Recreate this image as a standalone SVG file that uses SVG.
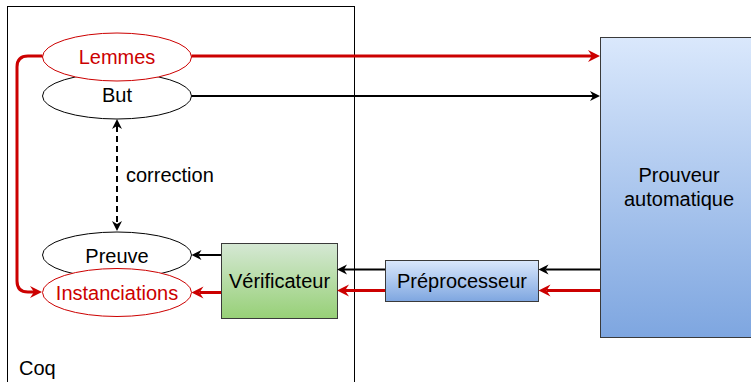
<svg xmlns="http://www.w3.org/2000/svg" width="751" height="382" viewBox="0 0 751 382">
  <style>
    text { font-family: "Liberation Sans", Arial, Helvetica, sans-serif; font-size: 20px; fill: #000; }
    text.red { fill: #cc0000; }
    .ell { fill: #fff; stroke: #000; stroke-width: 1; }
    .ell.red { stroke: #cc0000; }
    .box { stroke: #3a3a3a; stroke-width: 1; }
    .blk { fill: none; stroke: #000; stroke-width: 2; }
    .rd { fill: none; stroke: #cc0000; stroke-width: 3; }
  </style>
  <defs>
    <linearGradient id="gBlue" x1="0" y1="0" x2="0" y2="1">
      <stop offset="0" stop-color="#dae8fc"/>
      <stop offset="1" stop-color="#7ea6e0"/>
    </linearGradient>
    <linearGradient id="gGreen" x1="0" y1="0" x2="0" y2="1">
      <stop offset="0" stop-color="#d5e8d4"/>
      <stop offset="1" stop-color="#97d077"/>
    </linearGradient>
    <marker id="aBlk" viewBox="-12 -7 14 14" refX="-7" refY="0" markerWidth="14" markerHeight="14" markerUnits="userSpaceOnUse" orient="auto-start-reverse">
      <path d="M0,0 L-10,-5 L-7,0 L-10,5 Z" fill="#000"/>
    </marker>
    <marker id="aRed" viewBox="-14 -8 16 16" refX="-8" refY="0" markerWidth="16" markerHeight="16" markerUnits="userSpaceOnUse" orient="auto">
      <path d="M0,0 L-12,-6 L-8,0 L-12,6 Z" fill="#cc0000"/>
    </marker>
  </defs>

  <!-- Coq container -->
  <g id="coq">
    <rect x="7.5" y="6.5" width="347" height="390" fill="#fff" stroke="#000" stroke-width="1"/>
    <text x="19" y="375">Coq</text>
  </g>

  <!-- automated prover -->
  <g id="prouveur">
    <rect class="box" x="600.5" y="37.5" width="160" height="300" fill="url(#gBlue)"/>
    <text x="679" y="182" text-anchor="middle">Prouveur</text>
    <text x="679" y="206" text-anchor="middle">automatique</text>
  </g>

  <g id="preprocesseur">
    <rect class="box" x="385.5" y="260.5" width="153" height="41" fill="url(#gBlue)"/>
    <text x="462" y="287.5" text-anchor="middle">Préprocesseur</text>
  </g>

  <g id="verificateur">
    <rect class="box" x="221.5" y="243.5" width="116" height="75" fill="url(#gGreen)"/>
    <text x="279.5" y="287.5" text-anchor="middle">Vérificateur</text>
  </g>

  <g id="but">
    <ellipse class="ell" cx="117" cy="96" rx="74.5" ry="23"/>
    <text x="117" y="102" text-anchor="middle">But</text>
  </g>
  <g id="lemmes">
    <ellipse class="ell red" cx="117" cy="57" rx="74.5" ry="24"/>
    <text class="red" x="117" y="63.5" text-anchor="middle">Lemmes</text>
  </g>

  <g id="preuve">
    <ellipse class="ell" cx="117" cy="255" rx="74.5" ry="23"/>
    <text x="117" y="262.5" text-anchor="middle">Preuve</text>
  </g>
  <g id="instanciations">
    <ellipse class="ell red" cx="117" cy="292.5" rx="74.5" ry="24"/>
    <text class="red" x="117" y="299.5" text-anchor="middle">Instanciations</text>
  </g>

  <!-- connectors -->
  <g id="connectors">
    <path class="rd" d="M191.5,56 L592,56" marker-end="url(#aRed)"/>
    <path class="blk" d="M191.5,96 L593,96" marker-end="url(#aBlk)"/>
    <path class="rd" d="M42.5,56 L28,56 Q17,56 17,67 L17,281 Q17,292 28,292 L34,292" marker-end="url(#aRed)"/>
    <path class="blk" d="M117,126 L117,224" stroke-dasharray="6 4" marker-start="url(#aBlk)" marker-end="url(#aBlk)"/>
    <text x="126" y="181.5">correction</text>
    <path class="blk" d="M221,255 L198.5,255" marker-end="url(#aBlk)"/>
    <path class="rd" d="M221,292.5 L199.5,292.5" marker-end="url(#aRed)"/>
    <path class="blk" d="M385,269.5 L344,269.5" marker-end="url(#aBlk)"/>
    <path class="rd" d="M385,290.5 L345,290.5" marker-end="url(#aRed)"/>
    <path class="blk" d="M600,269.5 L545.5,269.5" marker-end="url(#aBlk)"/>
    <path class="rd" d="M600,290.5 L546.5,290.5" marker-end="url(#aRed)"/>
  </g>
</svg>
